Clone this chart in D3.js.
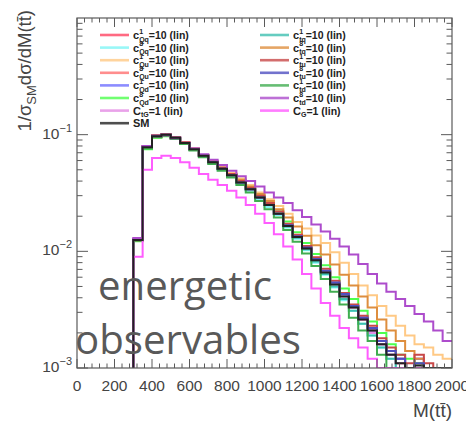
<!DOCTYPE html>
<html><head><meta charset="utf-8">
<script src="https://cdn.jsdelivr.net/npm/d3@7/dist/d3.min.js"></script>
<style>body{margin:0;background:#fff}svg{display:block}</style>
</head><body>
<svg id="c" width="466" height="424"></svg>
<script>
const binEdges = [300,350,400,450,500,550,600,650,700,750,800,850,900,950,1000,1050,1100,1150,1200,1250,1300,1350,1400,1450,1500,1550,1600,1650,1700,1750,1800,1850,1900,1950];
const xMax = 2000;
const xTicks = [0,200,400,600,800,1000,1200,1400,1600,1800,2000];
const yTicks = [1e-3,1e-2,1e-1];
const yTickExp = ["\u22123","\u22122","\u22121"];

const sm       = [0.0125,0.078,0.097,0.100,0.094,0.085,0.075,0.066,0.058,0.051,0.045,0.039,0.034,0.029,0.025,0.021,0.0165,0.0133,0.0106,0.0084,0.0066,0.0052,0.0041,0.0033,0.0026,0.0021,0.0016,0.0013,0.0011,0.00085,0.00105,0.0009,0.0007,0.0006];
const cQq1     = [0.0127,0.079,0.098,0.100,0.094,0.085,0.075,0.066,0.058,0.051,0.045,0.039,0.034,0.029,0.025,0.021,0.0168,0.0135,0.0108,0.0086,0.0068,0.0053,0.0042,0.0034,0.0027,0.0021,0.0017,0.0014,0.0012,0.0010,0.0012,0.0009,0.0007,0.0005];
const cQq8     = [0.0124,0.077,0.096,0.099,0.093,0.084,0.074,0.065,0.057,0.050,0.044,0.038,0.033,0.028,0.024,0.0205,0.0160,0.0128,0.0102,0.0080,0.0063,0.0049,0.0038,0.0031,0.0024,0.0019,0.0015,0.0012,0.0010,0.0008,0.0008,0.0007,0.0006,0.0005];
const cQu1     = [0.0125,0.077,0.095,0.098,0.092,0.084,0.075,0.067,0.059,0.053,0.047,0.042,0.037,0.032,0.028,0.0245,0.021,0.0178,0.0157,0.0137,0.0118,0.0098,0.0080,0.0064,0.0051,0.0042,0.0034,0.0028,0.0023,0.0019,0.0016,0.0015,0.0013,0.0012];
const cQu8     = [0.0126,0.078,0.097,0.100,0.094,0.085,0.075,0.066,0.058,0.051,0.045,0.039,0.034,0.029,0.025,0.021,0.0166,0.0134,0.0107,0.0085,0.0067,0.0053,0.0042,0.0033,0.0026,0.0021,0.0016,0.0013,0.0011,0.0009,0.0011,0.0010,0.0007,0.0006];
const cQd1     = [0.0125,0.078,0.097,0.100,0.094,0.085,0.075,0.066,0.058,0.051,0.045,0.039,0.034,0.029,0.025,0.021,0.0166,0.0134,0.0107,0.0085,0.0067,0.0053,0.0042,0.0034,0.0027,0.0021,0.0016,0.0013,0.0012,0.0010,0.0012,0.0008,0.0007,0.0006];
const cQd8     = [0.0122,0.075,0.094,0.097,0.092,0.083,0.074,0.065,0.058,0.051,0.045,0.040,0.035,0.030,0.026,0.022,0.0180,0.0146,0.0118,0.0095,0.0076,0.0060,0.0048,0.0039,0.0031,0.0025,0.0020,0.0016,0.0013,0.0012,0.0011,0.0010,0.0007,0.0006];
const ctG      = [0.0126,0.079,0.098,0.101,0.095,0.086,0.076,0.067,0.059,0.052,0.045,0.040,0.034,0.029,0.025,0.021,0.0167,0.0134,0.0107,0.0085,0.0067,0.0052,0.0041,0.0033,0.0026,0.0020,0.0016,0.0013,0.0011,0.0009,0.0009,0.0008,0.0006,0.0005];
const ctq1     = [0.0125,0.078,0.097,0.100,0.094,0.085,0.075,0.066,0.058,0.051,0.045,0.039,0.034,0.029,0.025,0.021,0.0163,0.0131,0.0104,0.0082,0.0064,0.0050,0.0039,0.0031,0.0024,0.0019,0.0015,0.0012,0.0010,0.0008,0.0009,0.0008,0.0006,0.0005];
const ctq8     = [0.0123,0.077,0.096,0.099,0.093,0.084,0.075,0.066,0.059,0.052,0.046,0.041,0.036,0.031,0.027,0.023,0.0195,0.0163,0.0136,0.0113,0.0094,0.0077,0.0063,0.0051,0.0041,0.0033,0.0026,0.0021,0.0017,0.0014,0.0012,0.0010,0.0009,0.0008];
const ctu1     = [0.0127,0.080,0.099,0.101,0.095,0.086,0.076,0.067,0.059,0.052,0.046,0.040,0.035,0.030,0.026,0.022,0.0172,0.0139,0.0111,0.0089,0.0071,0.0056,0.0044,0.0035,0.0028,0.0023,0.0018,0.0015,0.0013,0.0011,0.0013,0.0011,0.0008,0.0006];
const ctu8     = [0.0126,0.079,0.098,0.100,0.094,0.085,0.075,0.066,0.058,0.051,0.045,0.039,0.034,0.029,0.025,0.021,0.0167,0.0135,0.0108,0.0086,0.0068,0.0054,0.0043,0.0034,0.0027,0.0022,0.0017,0.0014,0.0012,0.0010,0.0011,0.0010,0.0008,0.0006];
const ctd1     = [0.0123,0.076,0.095,0.098,0.092,0.083,0.073,0.064,0.056,0.049,0.043,0.037,0.032,0.027,0.023,0.0195,0.0152,0.0121,0.0096,0.0075,0.0058,0.0045,0.0035,0.0027,0.0021,0.0017,0.0013,0.0010,0.0009,0.0008,0.0007,0.0006,0.0005,0.0004];
const ctd8     = [0.0130,0.080,0.097,0.099,0.093,0.085,0.076,0.068,0.061,0.055,0.049,0.044,0.040,0.036,0.032,0.029,0.026,0.0225,0.0197,0.0170,0.0148,0.0128,0.0110,0.0094,0.0078,0.0064,0.0053,0.0045,0.0039,0.0034,0.0029,0.0025,0.0021,0.0017];
const cG       = [0.009,0.050,0.063,0.066,0.063,0.058,0.052,0.046,0.041,0.037,0.033,0.029,0.025,0.021,0.0175,0.0140,0.0110,0.0085,0.0064,0.0048,0.0036,0.0028,0.0022,0.0018,0.0015,0.0012,0.00095,0.0007,0.0006,0.0005,0.0005,0.0004,0.0003,0.0003];

// legend: [prefix, superscript, subscript, rest]
const seriesLeft = [
  {lab:["c","1","Qq","=10 (lin)"], data:cQq1, color:"#ff4563"},
  {lab:["c","8","Qq","=10 (lin)"], data:cQq8, color:"#7ff5f5"},
  {lab:["c","1","Qu","=10 (lin)"], data:cQu1, color:"#ffc985"},
  {lab:["c","8","Qu","=10 (lin)"], data:cQu8, color:"#ff7070"},
  {lab:["c","1","Qd","=10 (lin)"], data:cQd1, color:"#6f6fff"},
  {lab:["c","8","Qd","=10 (lin)"], data:cQd8, color:"#4dff4d"},
  {lab:["C","","tG","=1 (lin)"], data:ctG, color:"#e48be4"},
  {lab:["SM","","",""], data:sm, color:"#222222"}
];
const seriesRight = [
  {lab:["c","1","tq","=10 (lin)"], data:ctq1, color:"#3fbfb0"},
  {lab:["c","8","tq","=10 (lin)"], data:ctq8, color:"#de8e3e"},
  {lab:["c","1","tu","=10 (lin)"], data:ctu1, color:"#c84848"},
  {lab:["c","8","tu","=10 (lin)"], data:ctu8, color:"#4f4fc0"},
  {lab:["c","1","td","=10 (lin)"], data:ctd1, color:"#40ad50"},
  {lab:["c","8","td","=10 (lin)"], data:ctd8, color:"#ad4ccc"},
  {lab:["C","","G","=1 (lin)"], data:cG, color:"#ff5cff"}
];

const svg = d3.select("#c");
const L = 77, R = 452, T = 18, B = 368;
const x = d3.scaleLinear().domain([0, xMax]).range([L, R]);
const yMin = 1e-3;
const y = d3.scaleLog().domain([yMin, 1]).range([B, T]);
const axisCol = "#5a5a5a";
const font = "'Liberation Sans', Arial, sans-serif";

svg.append("clipPath").attr("id","clip").append("rect")
  .attr("x",L).attr("y",T).attr("width",R-L).attr("height",B-T);

// histograms
const line = d3.line().curve(d3.curveStepAfter)
  .x(d => x(d[0])).y(d => y(Math.max(d[1], yMin)));
function pts(data){
  const p = [[binEdges[0], yMin]];
  data.forEach((v,i) => p.push([binEdges[i], v]));
  p.push([xMax, data[data.length-1]]);
  return p;
}
const gH = svg.append("g").attr("clip-path","url(#clip)");
const drawOrder = [...seriesLeft.slice(0,7), ...seriesRight, seriesLeft[7]];
drawOrder.forEach(s => {
  gH.append("path").attr("d", line(pts(s.data)))
    .attr("fill","none").attr("stroke", s.color).attr("stroke-width",2)
    .attr("stroke-linejoin","miter");
});

// frame
const gA = svg.append("g");
gA.append("rect").attr("x",L).attr("y",T).attr("width",R-L).attr("height",B-T)
  .attr("fill","none").attr("stroke",axisCol).attr("stroke-width",1.2);

// x ticks (major + minor), bottom and top
const xMinor = d3.range(0, xMax+1, 40);
xMinor.forEach(v => {
  const major = v % 200 === 0;
  const len = major ? 9 : 4.5;
  gA.append("line").attr("x1",x(v)).attr("x2",x(v)).attr("y1",B).attr("y2",B-len)
    .attr("stroke",axisCol).attr("stroke-width",1);
  gA.append("line").attr("x1",x(v)).attr("x2",x(v)).attr("y1",T).attr("y2",T+len)
    .attr("stroke",axisCol).attr("stroke-width",1);
});
// y ticks
const yMinorVals = [];
[1e-3,1e-2,1e-1].forEach(d => { for (let k=1;k<10;k++) yMinorVals.push(d*k); });
yMinorVals.forEach(v => {
  const major = Math.abs(Math.log10(v) - Math.round(Math.log10(v))) < 1e-9;
  const len = major ? 11 : 5.5;
  gA.append("line").attr("x1",L).attr("x2",L+len).attr("y1",y(v)).attr("y2",y(v))
    .attr("stroke",axisCol).attr("stroke-width",1);
  gA.append("line").attr("x1",R).attr("x2",R-len).attr("y1",y(v)).attr("y2",y(v))
    .attr("stroke",axisCol).attr("stroke-width",1);
});

// x tick labels
xTicks.forEach(v => {
  svg.append("text").attr("x",x(v)).attr("y",391).attr("text-anchor","middle")
    .attr("font-family",font).attr("font-size",15.5).attr("fill","#444").text(v);
});
// y tick labels
yTicks.forEach((v,i) => {
  const t = svg.append("text").attr("x",72).attr("y",y(v)+4).attr("text-anchor","end")
    .attr("font-family",font).attr("font-size",15.5).attr("fill","#444");
  t.append("tspan").text("10");
  t.append("tspan").attr("dy",-7).attr("font-size",11).text(yTickExp[i]);
});

// axis titles
svg.append("text").attr("x",452).attr("y",417).attr("text-anchor","end")
  .attr("font-family",font).attr("font-size",19).attr("fill","#444")
  .text("M(tt\u0304)");
const yt = svg.append("text").attr("transform","translate(31,10) rotate(-90)")
  .attr("text-anchor","end").attr("font-family",font).attr("font-size",18.5).attr("fill","#444");
yt.append("tspan").text("1/\u03c3");
yt.append("tspan").attr("dy",5).attr("font-size",13).text("SM");
yt.append("tspan").attr("dy",-5).text("d\u03c3/dM(tt\u0304)");

// legend
function legendCol(list, x0, tx) {
  list.forEach((s,i) => {
    const yy = 35 + i*12.6;
    svg.append("line").attr("x1",x0).attr("x2",x0+29).attr("y1",yy).attr("y2",yy)
      .attr("stroke",s.color).attr("stroke-width",2.6).attr("stroke-opacity",0.8);
    const g = svg.append("g").attr("font-family",font).attr("fill","#222").attr("font-weight","bold");
    const [pre, sup, sub, rest] = s.lab;
    const t0 = g.append("text").attr("x",tx).attr("y",yy+4).attr("font-size",11).text(pre);
    let cx = tx + t0.node().getComputedTextLength();
    let w = 0;
    if (sup) {
      const ts = g.append("text").attr("x",cx).attr("y",yy-1.5).attr("font-size",7).text(sup);
      w = Math.max(w, ts.node().getComputedTextLength());
    }
    if (sub) {
      const tb = g.append("text").attr("x",cx).attr("y",yy+6.5).attr("font-size",7).text(sub);
      w = Math.max(w, tb.node().getComputedTextLength());
    }
    cx += w;
    if (rest) g.append("text").attr("x",cx).attr("y",yy+4).attr("font-size",10.5).text(rest);
  });
}
legendCol(seriesLeft, 100, 133);
legendCol(seriesRight, 260, 293);

// overlay annotation
svg.append("text").attr("x",98).attr("y",300).attr("font-family","'Open Sans', sans-serif")
  .attr("font-size",40).attr("fill","#595959").attr("textLength",174).attr("lengthAdjust","spacingAndGlyphs")
  .text("energetic");
svg.append("text").attr("x",75).attr("y",354).attr("font-family","'Open Sans', sans-serif")
  .attr("font-size",40).attr("fill","#595959").attr("textLength",226).attr("lengthAdjust","spacingAndGlyphs")
  .text("observables");
</script>
</body></html>
